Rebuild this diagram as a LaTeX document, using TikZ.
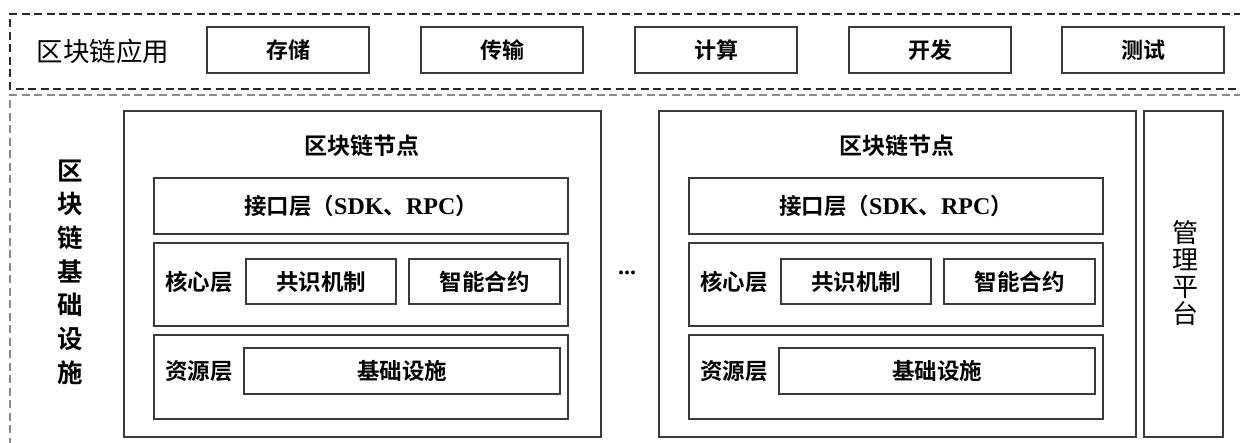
\documentclass[tikz,border=0pt]{standalone}
\usepackage{fontspec}
\setmainfont{Liberation Serif}
\newfontfamily\cjk{Noto Sans CJK SC}[BoldFont={Noto Sans CJK SC Bold}]
\definecolor{boxc}{HTML}{3A3A3A}
\definecolor{dashdark}{HTML}{2A2A2A}
\definecolor{dashgray}{HTML}{8A8A8A}
\tikzset{
  bx/.style={draw=boxc, line width=1.1pt, inner sep=0pt, anchor=center,
    font={\cjk\bfseries\fontsize{22}{26}\selectfont}},
  lbl/.style={inner sep=0pt, anchor=center, font={\cjk\bfseries\fontsize{22.5}{26}\selectfont}},
  dtop/.style={draw=dashdark, line width=1.1pt, dash pattern=on 8pt off 4.5pt},
  dbot/.style={draw=dashgray, line width=1.3pt, dash pattern=on 8pt off 4.5pt},
}
\newcommand{\chainnode}[2]{%
  % #1 = prefix, #2 = x offset
  \node[bx, minimum width=477pt, minimum height=326pt] (#1node) at (362.5+#2,274) {};
  \node[lbl, font={\cjk\bfseries\fontsize{23}{26}\selectfont}] (#1title) at (362+#2,146) {区块链节点};
  \node[bx, minimum width=414pt, minimum height=56pt, font={\cjk\bfseries\fontsize{22.5}{26}\selectfont}] (#1api) at (361+#2,206)
    {接口层（{\rmfamily\bfseries\fontsize{24}{26}\selectfont SDK}、{\rmfamily\bfseries\fontsize{24}{26}\selectfont RPC}）};
  \node[bx, minimum width=414pt, minimum height=83pt] (#1core) at (361+#2,284.5) {};
  \node[lbl] (#1corelbl) at (199+#2,282) {核心层};
  \node[bx, minimum width=150pt, minimum height=45pt, font={\cjk\bfseries\fontsize{22.5}{26}\selectfont}] (#1cons) at (321+#2,281.5) {共识机制};
  \node[bx, minimum width=151pt, minimum height=45pt, font={\cjk\bfseries\fontsize{22.5}{26}\selectfont}] (#1smart) at (484.5+#2,281.5) {智能合约};
  \node[bx, minimum width=414pt, minimum height=84pt] (#1res) at (361+#2,377) {};
  \node[lbl] (#1reslbl) at (199+#2,371) {资源层};
  \node[bx, minimum width=316pt, minimum height=46pt, font={\cjk\bfseries\fontsize{22.5}{26}\selectfont}] (#1infra) at (402+#2,371) {基础设施};
}
\begin{document}
\begin{tikzpicture}[x=1pt,y=-1pt]
\useasboundingbox (0,0) rectangle (1240,443);
\fill[white] (0,0) rectangle (1240,443);
% application layer
\draw[dtop] (1242,14) -| (10,89) -- (1242,89);
\node[inner sep=0pt, font={\cjk\fontsize{26.5}{30}\selectfont}] (applbl) at (103,51) {区块链应用};
\node[bx, minimum width=162pt, minimum height=46pt] (store) at (288,50) {存储};
\node[bx, minimum width=162pt, minimum height=46pt] (trans) at (502,50) {传输};
\node[bx, minimum width=162pt, minimum height=46pt] (comp) at (716,50) {计算};
\node[bx, minimum width=162pt, minimum height=46pt] (dev) at (930,50) {开发};
\node[bx, minimum width=162pt, minimum height=46pt] (test) at (1143,50) {测试};
% infrastructure layer
\draw[dbot] (1242,95) -| (10,445);
\node[inner sep=0pt, align=center, font={\cjk\bfseries\fontsize{25.5}{33.7}\selectfont}] (infralbl) at (70,272)
  {区\\块\\链\\基\\础\\设\\施};
\chainnode{a}{0}
\chainnode{b}{535}
\node[inner sep=0pt, font={\bfseries\fontsize{24}{26}\selectfont}] (dots) at (627,273) {...};
\node[bx, minimum width=79pt, minimum height=326pt] (mgmt) at (1183.5,274) {};
\node[inner sep=0pt, align=center, font={\cjk\fontsize{26}{27}\selectfont}] (mgmtlbl) at (1185,273)
  {管\\理\\平\\台};
\end{tikzpicture}
\end{document}
